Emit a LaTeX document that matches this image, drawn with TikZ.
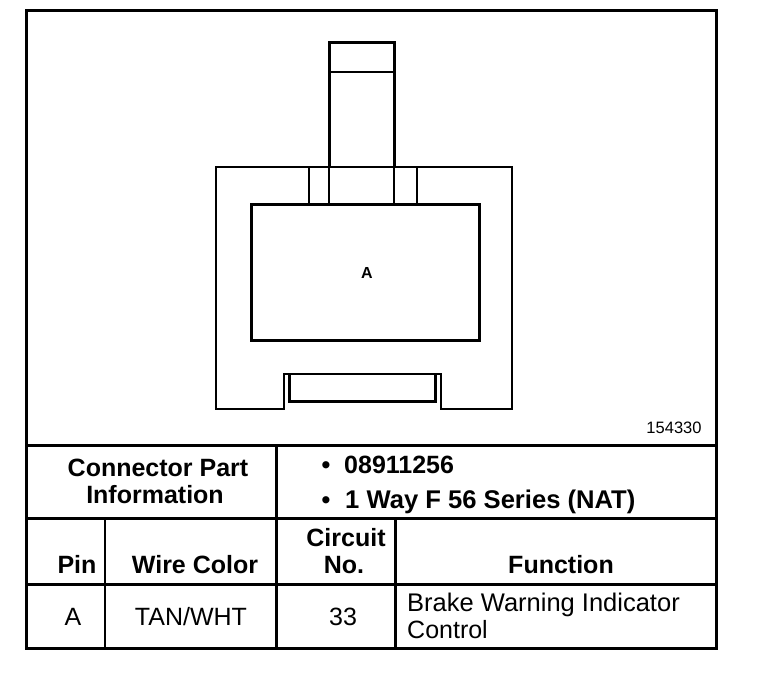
\documentclass[tikz,border=0pt]{standalone}
\usepackage{fontspec}
\setmainfont{Liberation Sans}
\tikzset{
  x=1pt,y=-1pt,
  thick line/.style={line width=3pt,line cap=rect},
  med line/.style={line width=2.6pt,line cap=rect},
  thin line/.style={line width=2pt,line cap=rect},
  head/.style={font=\fontsize{25}{27}\selectfont\bfseries,inner sep=0pt,anchor=base},
  body/.style={font=\fontsize{25}{27}\selectfont,inner sep=0pt,anchor=base},
  tiny/.style={font=\fontsize{16.5}{18}\selectfont,inner sep=0pt,anchor=base},
}
\begin{document}
\begin{tikzpicture}
\useasboundingbox (0,0) rectangle (768,700);
% frame and table
\draw[thick line] (26,11) rectangle (716,648);
\draw[thick line] (26,445) -- (716,445);
\draw[thick line] (26,518) -- (716,518);
\draw[thick line] (26,584) -- (716,584);
\draw[thick line] (276,445) -- (276,648);
\draw[thick line] (395,518) -- (395,648);
\draw[med line] (105,518) -- (105,648);
% connector
\draw[thick line] (329,167) -- (329,43) -- (394,43) -- (394,167);
\draw[thin line] (329,72) -- (394,72);
\draw[med line] (329,167) -- (329,205);
\draw[med line] (394,167) -- (394,205);
\draw[thin line] (309,167) -- (309,205);
\draw[med line] (417,167) -- (417,205);
\draw[med line] (284,409) -- (284,374) -- (441,374) -- (441,409) -- (512,409) -- (512,167) -- (216,167) -- (216,409) -- cycle;
\draw[thick line] (251,205) rectangle (479,341);
\draw[thick line] (289,374) -- (289,401) -- (435,401) -- (435,374);
% labels
\node[tiny,font=\fontsize{16}{18}\selectfont\bfseries] (pa) at (367,279) {A};
\node[tiny] (num) at (674,433) {154330};
\node[head] (c1) at (158,476) {Connector Part};
\node[head] (c2) at (155,503) {Information};
\node[head] (b1) at (326,473) {•};
\node[head,anchor=base west] (p1) at (344,473) {08911256};
\node[head] (b2) at (326,508) {•};
\node[head,anchor=base west,font=\fontsize{25.6}{27}\selectfont\bfseries] (p2) at (345,508) {1 Way F 56 Series (NAT)};
\node[head] (hp) at (77,573) {Pin};
\node[head] (hw) at (195,573) {Wire Color};
\node[head] (hc1) at (346,546) {Circuit};
\node[head] (hc2) at (344,573) {No.};
\node[head] (hf) at (561,573) {Function};
\node[body] (va) at (73,625) {A};
\node[body] (vw) at (191,625) {TAN/WHT};
\node[body] (vc) at (343,625) {33};
\node[body,anchor=base west,font=\fontsize{25.5}{27}\selectfont] (vf1) at (407,611) {Brake Warning Indicator};
\node[body,anchor=base west] (vf2) at (407,638) {Control};
\end{tikzpicture}
\end{document}
